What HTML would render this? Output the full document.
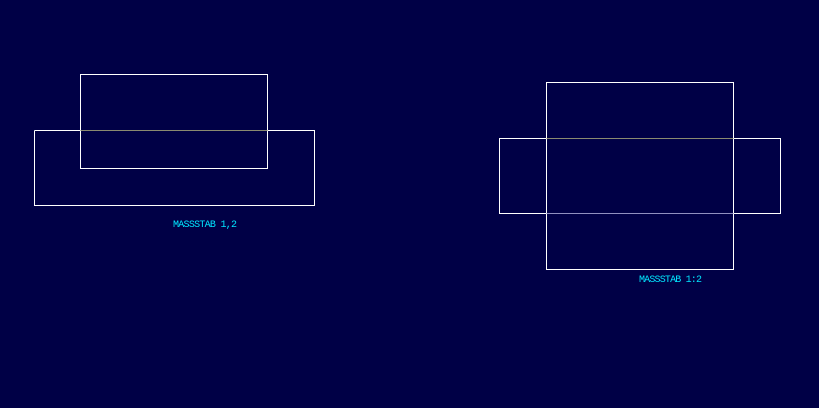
<!DOCTYPE html>
<html><head><style>
html,body{margin:0;padding:0;background:#000046;width:819px;height:408px;overflow:hidden}
</style></head><body>
<svg width="819" height="408" xmlns="http://www.w3.org/2000/svg" style="display:block">
<rect width="819" height="408" fill="#000046"/>
<g fill="none" stroke="#ffffff" stroke-width="1">
<path d="M34.5 130.5 V205.5 H314.5 V130.5 H267.5 M80.5 130.5 H34.5"/>
<path d="M80.5 74.5 H267.5 V168.5 H80.5 Z"/>
<path d="M546.5 82.5 H733.5 V269.5 H546.5 Z"/>
<path d="M546.5 138.5 H499.5 V213.5 H546.5 M733.5 138.5 H780.5 V213.5 H733.5"/>
</g>
<g stroke="#8a8a70" stroke-width="1">
<path d="M80.5 130.5 H267.5"/>
<path d="M546.5 138.5 H733.5"/>
<path d="M546.5 213.5 H733.5" stroke="#9090c0"/>
</g>
<g fill="#00e5ff" font-family="Liberation Mono, monospace" font-size="10">
<text x="173" y="227" textLength="64">MASSSTAB 1,2</text>
<text x="639" y="282" textLength="63">MASSSTAB 1:2</text>
</g>
</svg>
</body></html>
